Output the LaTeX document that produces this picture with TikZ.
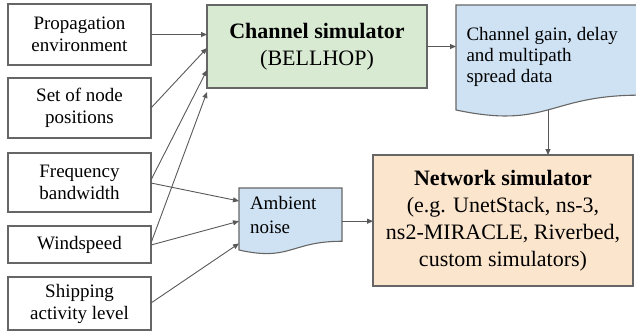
\documentclass[tikz,border=0pt]{standalone}
\usepackage{fontspec}
\setmainfont{Liberation Serif}
\usetikzlibrary{arrows.meta,calc}
\definecolor{edge}{HTML}{595959}
\definecolor{boxline}{HTML}{666666}
\definecolor{chfill}{HTML}{D9EAD3}
\definecolor{docfill}{HTML}{CFE2F3}
\definecolor{netfill}{HTML}{FCE5CD}
\tikzset{
  x=1pt, y=1pt,
  inbox/.style={draw=boxline, line width=1.1pt, fill=white, minimum width=143pt,
    align=center, inner sep=0pt, outer sep=0pt, font=\fontsize{19}{22}\selectfont},
  bigbox/.style={draw=boxline, line width=1.3pt, align=center, inner sep=0pt, outer sep=0pt,
    font=\fontsize{22}{27}\selectfont},
  docbox/.style={inner sep=0pt, outer sep=0pt},
  docdraw/.style={draw=boxline, line width=1.1pt, fill=docfill},
  doctext/.style={inner sep=0pt, outer sep=0pt, align=left},
  conn/.style={draw=edge, line width=0.9pt, -{Triangle[length=6pt,width=5pt]}},
}
\newcommand{\docshape}[1]{%
  \draw[docdraw] let \p1=(#1.north west), \p2=(#1.south east) in
    (\x1,\y1) -- (\x2,\y1) -- (\x2,{\y1+0.802*(\y2-\y1)})
    .. controls ({(\x1+\x2)/2},{\y1+0.802*(\y2-\y1)}) and ({(\x1+\x2)/2},{\y1+1.1075*(\y2-\y1)})
    .. (\x1,{\y1+0.934*(\y2-\y1)}) -- cycle;}
\begin{document}
\begin{tikzpicture}
\useasboundingbox (0,0) rectangle (636,-333);
% input boxes
\node[inbox, minimum height=61pt] (prop) at (79.5,-34.5) {Propagation\\environment};
\node[inbox, minimum height=60pt] (pos) at (79.5,-108) {Set of node\\positions};
\node[inbox, minimum height=59pt] (freq) at (79.5,-182.5) {Frequency\\bandwidth};
\node[inbox, minimum height=37pt] (wind) at (79.5,-244.5) {Windspeed};
\node[inbox, minimum height=53pt] (ship) at (79.5,-303.5) {Shipping\\activity level};
% channel simulator
\node[bigbox, fill=chfill, minimum width=220pt, minimum height=83pt] (chan) at (317,-46.5)
  {\textbf{Channel simulator}\\(BELLHOP)};
% network simulator
\node[bigbox, fill=netfill, minimum width=260pt, minimum height=131pt] (net) at (503,-220.5)
  {\textbf{Network simulator}\\(e.g. UnetStack, ns-3,\\ns2-MIRACLE, Riverbed,\\custom simulators)};
% document shapes
\node[docbox, minimum width=184pt, minimum height=112.4pt] (gain) at (548,-61.2) {};
\docshape{gain}
\node[doctext, anchor=base west, font=\fontsize{19}{21}\selectfont] (gaintxt) at (466.5,-82.7)
  {Channel gain, delay\\and multipath\\spread data};
\node[docbox, minimum width=103pt, minimum height=66.4pt] (amb) at (290.5,-221.2) {};
\docshape{amb}
\node[doctext, anchor=base west, font=\fontsize{19}{24}\selectfont] (ambtxt) at (250,-233)
  {Ambient\\noise};
\coordinate (gainbot) at (548,-110);
% connectors
\draw[conn] (prop.east) -- (prop.east -| chan.west);
\draw[conn] (pos.east) -- ($(chan.west)+(0,-1.5)$);
\draw[conn] ($(freq.east)+(0,2.5)$) -- ($(chan.south west)+(0,18)$);
\draw[conn] ($(wind.east)+(0,1.5)$) -- ($(chan.south west)+(0,-4)$);
\draw[conn] ($(freq.east)+(0,-0.5)$) -- ($(amb.north west)+(0,-13)$);
\draw[conn] ($(wind.east)+(0,-0.5)$) -- (amb.west);
\draw[conn] ($(ship.east)+(0,0.5)$) -- ($(amb.south west)+(0,11)$);
\draw[conn] (chan.east) -- (chan.east -| gain.west);
\draw[conn] (gainbot) -- (gainbot |- net.north);
\draw[conn] (amb.east) -- (amb.east -| net.west);
\end{tikzpicture}
\end{document}
